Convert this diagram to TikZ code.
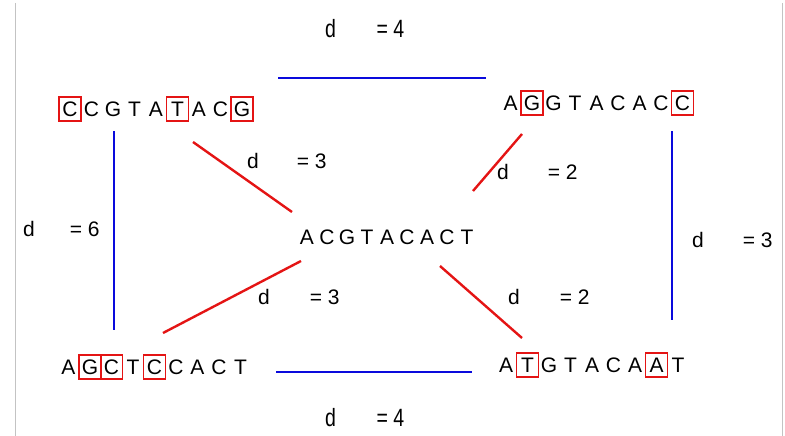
\documentclass[tikz,border=0pt]{standalone}
\usepackage{fontspec}
\setmainfont{Liberation Sans}
\definecolor{myred}{RGB}{228,20,20}
\definecolor{myblue}{RGB}{10,10,220}
\definecolor{frame}{RGB}{195,195,195}
\tikzset{
  seq/.style={inner sep=0pt, font=\fontsize{21}{25}\selectfont, text height=15pt, text depth=0pt, minimum width=22pt, minimum height=24pt},
  boxed/.style={seq, draw=myred, line width=1.3pt},
  lab/.style={inner sep=0pt, anchor=west, font=\fontsize{21}{25}\selectfont, text height=15pt, text depth=0pt},
  tlab/.style={inner sep=0pt, anchor=west, font=\fontsize{25}{30}\selectfont, text height=18pt, text depth=0pt},
  redline/.style={draw=myred, line width=2.4pt},
  blueline/.style={draw=myblue, line width=2.4pt},
  frameline/.style={draw=frame, line width=1pt}
}
\newcommand{\seqrow}[5]{% name, x0, y, letters, boxed indices
  \foreach \ch [count=\i from 0] in {#4} {
    \def\st{seq}
    \foreach \b in {#5} {\ifnum\b=\i \gdef\st{boxed}\fi}
    \node[\st] (#1-\i) at (#2+21.5*\i,#3) {\ch};
    \gdef\st{seq}
  }
}
\begin{document}
\begin{tikzpicture}[x=1pt,y=-1pt]
\useasboundingbox (0,0) rectangle (785,436);
% frame lines
\coordinate (fl1) at (15,3);
\coordinate (fl2) at (15,436);
\coordinate (fr1) at (782,3);
\coordinate (fr2) at (782,436);
\draw[frameline] (fl1) -- (fl2);
\draw[frameline] (fr1) -- (fr2);

% sequences
\seqrow{tl}{70}{109}{C,C,G,T,A,T,A,C,G}{0,5,8}
\seqrow{tr}{510.5}{103}{A,G,G,T,A,C,A,C,C}{1,8}
\seqrow{bl}{68.5}{367}{A,G,C,T,C,C,A,C,T}{1,2,4}
\seqrow{br}{506}{365}{A,T,G,T,A,C,A,A,T}{1,7}
\foreach \ch [count=\i from 0] in {A,C,G,T,A,C,A,C,T} {
  \node[seq] (c-\i) at (307+20*\i,237) {\ch};
}

% connector end points
\coordinate (tlR) at (193,142);
\coordinate (cTL) at (292,212);
\coordinate (trL) at (522,134);
\coordinate (cTR) at (473,191);
\coordinate (cBL) at (301,261);
\coordinate (blR) at (163,333);
\coordinate (cBR) at (440,266);
\coordinate (brL) at (522,338);
\coordinate (tA) at (278,78);
\coordinate (tB) at (486,78);
\coordinate (lA) at (114,131);
\coordinate (lB) at (114,330);
\coordinate (rA) at (672,131);
\coordinate (rB) at (672,320);
\coordinate (bA) at (276,372);
\coordinate (bB) at (472,372);

\draw[redline] (tlR) -- (cTL);
\draw[redline] (trL) -- (cTR);
\draw[redline] (cBL) -- (blR);
\draw[redline] (cBR) -- (brL);
\draw[blueline] (tA) -- (tB);
\draw[blueline] (lA) -- (lB);
\draw[blueline] (rA) -- (rB);
\draw[blueline] (bA) -- (bB);

% labels
\node[tlab] (ltop) at (325,29) {\scalebox{0.78}[1]{d\hspace{52pt}= 4}};
\node[tlab] (lbot) at (325,417) {\scalebox{0.78}[1]{d\hspace{52pt}= 4}};
\node[lab] (lleft) at (23,229) {d\hspace{35pt}= 6};
\node[lab] (lright) at (692,240) {d\hspace{39pt}= 3};
\node[lab] (lul) at (247,161) {d\hspace{38pt}= 3};
\node[lab] (lur) at (497,172) {d\hspace{39pt}= 2};
\node[lab] (lll) at (258,297) {d\hspace{40pt}= 3};
\node[lab] (llr) at (508,297) {d\hspace{40pt}= 2};
\end{tikzpicture}
\end{document}
